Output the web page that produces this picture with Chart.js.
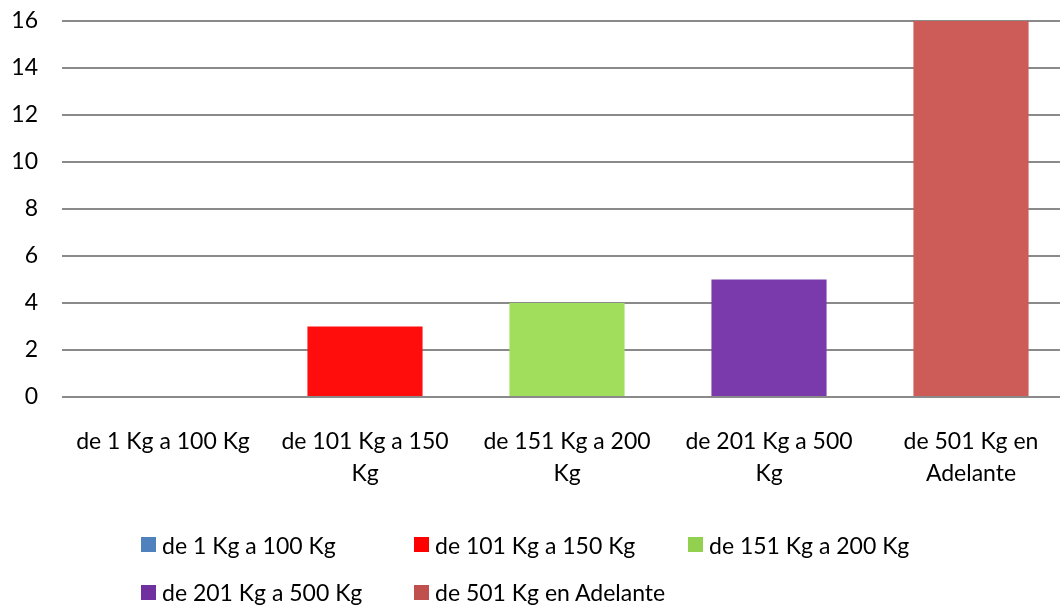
<!DOCTYPE html>
<html><head><meta charset="utf-8">
<script src="https://cdn.jsdelivr.net/npm/chart.js@4"></script>
<style>
html,body{margin:0;padding:0;background:#fff;overflow:hidden;}
#wrap{position:relative;width:1060px;height:607px;overflow:hidden;}
#c{position:absolute;left:0;top:0;}
#legend{position:absolute;left:0;top:0;width:1060px;height:607px;pointer-events:none;font-family:Lato,sans-serif;font-size:23px;color:#000;}
.li{position:absolute;display:flex;align-items:center;white-space:nowrap;}
.box{width:15px;height:15px;margin-right:6px;}
</style></head>
<body>
<div id="wrap"><canvas id="c" width="1072" height="607"></canvas><div id="legend"></div></div>
<script>
const categories = [["de 1 Kg a 100 Kg"],["de 101 Kg a 150","Kg"],["de 151 Kg a 200","Kg"],["de 201 Kg a 500","Kg"],["de 501 Kg en","Adelante"]];
const legendLabels = ["de 1 Kg a 100 Kg","de 101 Kg a 150 Kg","de 151 Kg a 200 Kg","de 201 Kg a 500 Kg","de 501 Kg en Adelante"];
const values = [0, 3, 4, 5, 16];
const barColors = ["#4F81BD","#FF0D0D","#A0DE5C","#7B3AAB","#CD5B57"];
const legendColors = ["#4F81BD","#FF0000","#92D050","#7030A0","#C0504D"];
const yTicks = [0,2,4,6,8,10,12,14,16];

const font = {family:"Lato, sans-serif", size:23};
new Chart(document.getElementById('c'), {
  type:'bar',
  data:{labels:categories, datasets:[{data:values, backgroundColor:barColors, borderWidth:0, categoryPercentage:1, barPercentage:0.57}]},
  options:{
    responsive:false, animation:false,
    layout:{padding:{left:0,right:0,top:0,bottom:0}},
    plugins:{legend:{display:false}, tooltip:{enabled:false}},
    scales:{
      x:{grid:{display:false}, border:{display:false},
         ticks:{color:'#000', font:{family:"Lato, sans-serif", size:23, lineHeight:1.4}, padding:20, maxRotation:0, autoSkip:false},
         afterFit:(s)=>{s.height = 210; s.paddingLeft = 0; s.paddingRight = 0;}},
      y:{min:0, max:16, afterBuildTicks:(s)=>{s.ticks = yTicks.map(v=>({value:v}));},
         grid:{color:'#8A8A8A', lineWidth:2, drawTicks:false}, border:{display:false},
         ticks:{color:'#000', font:font, padding:24},
         afterFit:(s)=>{s.width = 62; s.paddingTop = 21; s.paddingBottom = 0;}}
    }
  }
});
const pos = [[141,544.5],[414,544.5],[688,544.5],[141,592],[414,592]];
const lg = document.getElementById('legend');
legendLabels.forEach((t,i)=>{
  const d = document.createElement('div'); d.className='li';
  d.style.left = pos[i][0]+'px'; d.style.top = (pos[i][1]-14)+'px'; d.style.height='28px';
  d.innerHTML = '<span class="box" style="background:'+legendColors[i]+'"></span><span>'+t+'</span>';
  lg.appendChild(d);
});
</script>
</body></html>
